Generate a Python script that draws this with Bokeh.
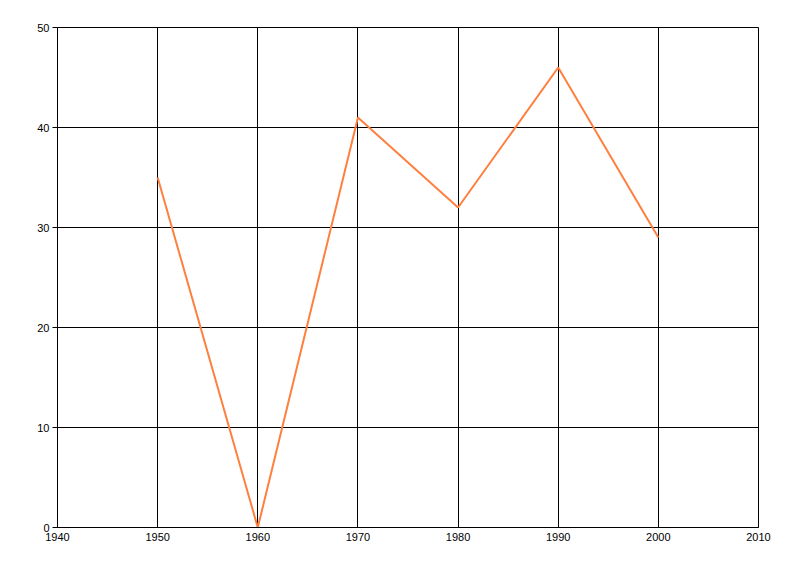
from bokeh.plotting import figure
from bokeh.models import Range1d, FixedTicker
from bokeh.embed import file_html
from bokeh.resources import INLINE

years = [1950, 1960, 1970, 1980, 1990, 2000]
values = [35, 0, 41, 32, 46, 29]
x_ticks = [1940, 1950, 1960, 1970, 1980, 1990, 2000, 2010]
y_ticks = [0, 10, 20, 30, 40, 50]

p = figure(width=784, height=560, output_backend="svg", toolbar_location=None,
           x_range=Range1d(1940, 2010), y_range=Range1d(0, 50),
           min_border_left=57, min_border_right=26, min_border_top=27, min_border_bottom=33)

p.line(years, values, line_color="#FF7F3F", line_width=2)

p.outline_line_color = "black"
p.outline_line_width = 1
p.background_fill_color = "white"
p.border_fill_color = "white"

for ax in (p.xaxis[0], p.yaxis[0]):
    ax.axis_line_color = "black"
    ax.major_label_text_font = "Liberation Sans"
    ax.major_label_text_font_size = "11px"
    ax.major_label_text_color = "black"
    ax.minor_tick_line_color = None
    ax.major_tick_line_color = "black"

p.xaxis[0].ticker = FixedTicker(ticks=x_ticks)
p.yaxis[0].ticker = FixedTicker(ticks=y_ticks)
p.xaxis[0].major_tick_out = 0
p.xaxis[0].major_tick_in = 0
p.xaxis[0].major_label_standoff = 5
p.yaxis[0].major_tick_out = 5
p.yaxis[0].major_tick_in = 0
p.yaxis[0].major_label_standoff = 3

p.xgrid.ticker = FixedTicker(ticks=x_ticks)
p.ygrid.ticker = FixedTicker(ticks=y_ticks)
p.grid.grid_line_color = "black"
p.grid.grid_line_width = 1
p.grid.grid_line_alpha = 1

open("out.html", "w").write(file_html(p, INLINE))
